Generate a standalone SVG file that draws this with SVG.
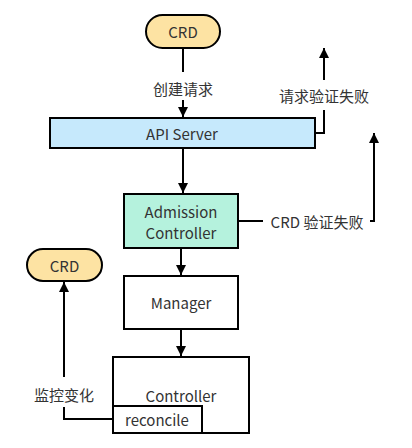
<svg xmlns="http://www.w3.org/2000/svg" width="412" height="448" viewBox="0 0 412 448">
<defs>
<marker id="ah" viewBox="0 0 10 10" refX="10" refY="5" markerWidth="10" markerHeight="10" markerUnits="userSpaceOnUse" orient="auto">
<path d="M0,0 L10,5 L0,10 z" fill="#000"/>
</marker>
<style>
.t{font-family:"Noto Sans CJK SC","Noto Sans",sans-serif;font-size:15px;fill:#333;text-anchor:middle;dominant-baseline:central}
.box{stroke:#000;stroke-width:2}
.pill{fill:#fde3a3;stroke:#000;stroke-width:2}
.ln{fill:none;stroke:#000;stroke-width:2}
</style>
</defs>
<rect width="412" height="448" fill="#fff"/>
<g id="connectors">
<path class="ln" d="M183,49 V72"/>
<path class="ln" d="M183,100 V117" marker-end="url(#ah)"/>
<path class="ln" d="M183,148 V193" marker-end="url(#ah)"/>
<path class="ln" d="M181,248 V275" marker-end="url(#ah)"/>
<path class="ln" d="M181,329 V356" marker-end="url(#ah)"/>
<path class="ln" d="M315,133 H324 V110"/>
<path class="ln" d="M324,80 V48" marker-end="url(#ah)"/>
<path class="ln" d="M238,221 H263"/>
<path class="ln" d="M370,221 H374 V133" marker-end="url(#ah)"/>
<path class="ln" d="M113,419 H64 V407"/>
<path class="ln" d="M64,377 V282" marker-end="url(#ah)"/>
<text class="t" x="183" y="88">创建请求</text>
<text class="t" x="324" y="95">请求验证失败</text>
<text class="t" x="317" y="221">CRD 验证失败</text>
<text class="t" x="64" y="394">监控变化</text>
</g>
<g id="crd-top">
<rect class="pill" x="146" y="15" width="74" height="33" rx="16.5"/>
<text class="t" x="183" y="31.5">CRD</text>
</g>
<g id="api-server">
<rect class="box" x="50" y="118" width="265" height="30" fill="#c6e9fc"/>
<text class="t" x="182" y="133">API Server</text>
</g>
<g id="admission-controller">
<rect class="box" x="124" y="194" width="114" height="54" fill="#b5f2dd"/>
<text class="t" x="181" y="211">Admission</text>
<text class="t" x="181" y="232">Controller</text>
</g>
<g id="manager">
<rect class="box" x="124" y="276" width="114" height="53" fill="#fff"/>
<text class="t" x="181" y="302">Manager</text>
</g>
<g id="controller">
<rect class="box" x="113" y="357" width="136" height="76" fill="#fff"/>
<text class="t" x="181" y="395">Controller</text>
</g>
<g id="reconcile">
<rect class="box" x="113" y="406" width="89" height="27" fill="#fff"/>
<text class="t" x="157" y="419">reconcile</text>
</g>
<g id="crd-bottom">
<rect class="pill" x="27" y="249" width="75" height="32" rx="16"/>
<text class="t" x="64.5" y="265">CRD</text>
</g>
</svg>
